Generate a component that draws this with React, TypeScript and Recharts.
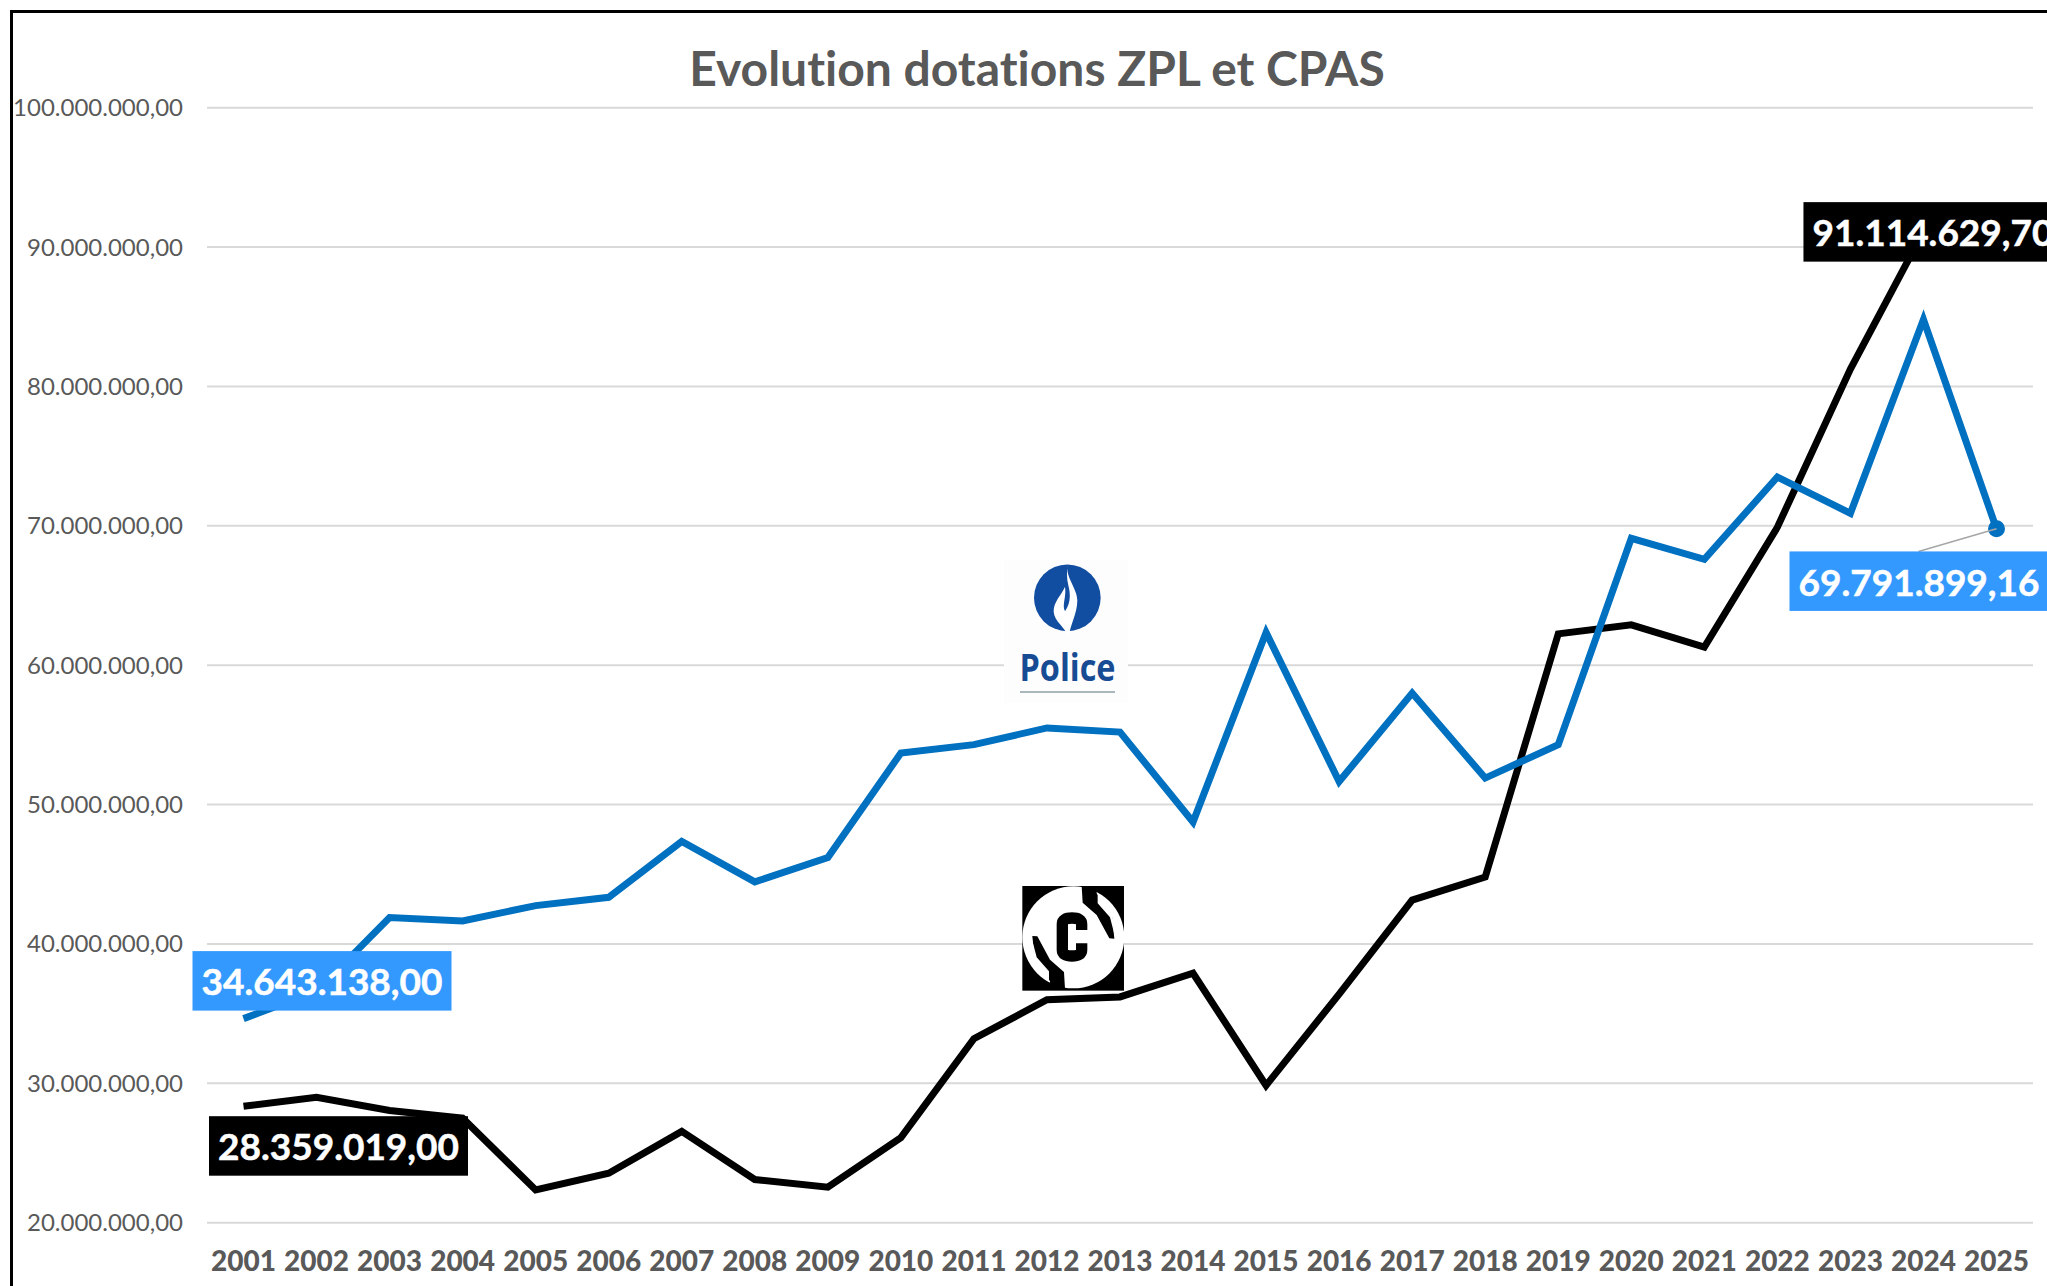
import React from "react";
import { LineChart, Line, XAxis, YAxis, CartesianGrid } from "recharts";

const years = ["2001","2002","2003","2004","2005","2006","2007","2008","2009","2010","2011","2012","2013","2014","2015","2016","2017","2018","2019","2020","2021","2022","2023","2024","2025"];
const police = [34643138,36600000,41900000,41650000,42750000,43350000,47350000,44450000,46200000,53700000,54300000,55500000,55200000,48750000,62350000,51650000,58000000,51900000,54300000,69100000,67600000,73500000,70900000,84800000,69791899.16];
const cpas: (number | null)[] = [28359019,29000000,28050000,27500000,22350000,23550000,26550000,23100000,22550000,26100000,33200000,36000000,36200000,37900000,29850000,36400000,43150000,44800000,62250000,62900000,61300000,69900000,81250000,91114629.7,null];
const yTicks = [20000000,30000000,40000000,50000000,60000000,70000000,80000000,90000000,100000000];
const title = "Evolution dotations ZPL et CPAS";

const rows = years.map((year, i) => ({ year, police: police[i], cpas: cpas[i] }));

const fmt = (v: number) => {
  const [a, b] = v.toFixed(2).split(".");
  return a.replace(/\B(?=(\d{3})+(?!\d))/g, ".") + "," + b;
};

const FONT = "Lato, sans-serif";
const BOX_W = 259;
const BOX_H = 59.5;

const makeLabel = (offsets: Record<number, [number, number]>, fill: string) => (p: any) => {
  const off = offsets[p.index];
  if (!off || p.value == null) return <g key={p.index} />;
  const bx = p.x + off[0];
  const by = p.y + off[1];
  return (
    <g key={p.index}>
      {p.index === 24 && <line x1={p.x} y1={p.y} x2={p.x - 78} y2={by} stroke="#A6A6A6" strokeWidth={1.5} />}
      <rect x={bx} y={by} width={BOX_W} height={BOX_H} fill={fill} />
      <text x={bx + BOX_W / 2} y={by + BOX_H / 2} fill="#fff" fontFamily={FONT} fontWeight={700} fontSize={37} textAnchor="middle" dominantBaseline="central" stroke="#fff" strokeWidth={0.5}>
        {fmt(p.value)}
      </text>
    </g>
  );
};

const endDot = (p: any) =>
  p.index === 24 ? <circle key={p.index} cx={p.cx} cy={p.cy} r={8.5} fill="#0070C0" /> : <g key={p.index} />;

const Logos = () => (
  <svg style={{ position: "absolute", left: 0, top: 0 }} width={2047} height={1286}>
    <rect x={1004} y={560} width={124} height={143} fill="#FDFDFD" />
    <g transform="translate(1020,558.5) scale(0.3333)">
      <circle cx={142} cy={118} r={100} fill="#114DA0" />
      <path d="M143,18 C135,55 172,90 172,125 C172,165 150,200 146,236 C135,205 103,190 101,160 C100,130 125,110 135,85 C140,115 125,140 135,158 C155,130 150,100 145,80 C140,60 140,40 143,18Z" fill="#fff" />
    </g>
    <text x={1067.5} y={681} textAnchor="middle" fontFamily="'Open Sans', sans-serif" fontWeight={700} fontSize={37} fill="#174C94" textLength={96} lengthAdjust="spacingAndGlyphs">Police</text>
    <rect x={1020} y={691} width={95} height={2} fill="#A9B8BB" />
    <g transform="translate(1015,880) scale(0.3333)">
      <rect x={22} y={18} width={305} height={314} fill="#000" />
      <circle cx={175} cy={172} r={153} fill="#fff" />
      <path d="M200,150 L200,132 Q200,114 171,114 Q142,114 142,132 L142,210 Q142,228 171,228 Q200,228 200,210 L200,190" fill="none" stroke="#000" strokeWidth={34} />
      <path d="M200,18 L203,68 L245,105 L283,175 L298,176 L292,112 L245,40 L245,18Z" fill="#000" />
      <path d="M248,40 L290,85 L300,170 L285,112 L248,70Z" fill="#fff" />
      <path d="M150,326 L147,276 L105,239 L67,169 L52,168 L58,232 L105,304 L105,326Z" fill="#000" />
      <path d="M102,304 L60,259 L50,174 L65,232 L102,274Z" fill="#fff" />
    </g>
  </svg>
);

export default function App() {
  return (
    <div style={{ position: "absolute", left: 0, top: 0, width: 2047, height: 1286, overflow: "hidden", background: "#fff" }}>
      <div style={{ position: "absolute", left: 10, top: 10, width: 2037, height: 1276, borderLeft: "3px solid #000", borderTop: "3px solid #000", boxSizing: "border-box" }} />
      <div style={{ position: "absolute", left: 590, top: 34, width: 894, textAlign: "center", fontFamily: FONT, fontWeight: 700, fontSize: 48, lineHeight: "68px", color: "#595959", whiteSpace: "nowrap", fontVariantLigatures: "none" }}>{title}</div>
      <div style={{ position: "absolute", left: 0, top: 0 }}>
        <LineChart width={2047} height={1286} data={rows} margin={{ top: 107.7, right: 14, bottom: 0, left: 0 }}>
          <CartesianGrid horizontal vertical={false} stroke="#D9D9D9" strokeWidth={2} />
          <XAxis dataKey="year" interval={0} height={63.3} axisLine={false} tickLine={false} tickSize={0} tickMargin={28} padding={{ left: 36.5, right: 36.5 }} tick={{ fill: "#595959", fontFamily: FONT, fontWeight: 900, fontSize: 28 }} />
          <YAxis width={207} domain={[20000000, 100000000]} ticks={yTicks} axisLine={false} tickLine={false} tickSize={0} tickMargin={24} tickFormatter={fmt} tick={{ fill: "#595959", fontFamily: FONT, fontSize: 24 }} />
          <Line dataKey="cpas" stroke="#000" strokeWidth={7} dot={false} isAnimationActive={false} label={makeLabel({ 0: [-34.5, 10], 23: [-120, -29.4] }, "#000")} />
          <Line dataKey="police" stroke="#0070C0" strokeWidth={7} dot={endDot} isAnimationActive={false} label={makeLabel({ 0: [-51, -67.5], 24: [-207, 22.7] }, "#3399FF")} />
        </LineChart>
      </div>
      <Logos />
    </div>
  );
}
